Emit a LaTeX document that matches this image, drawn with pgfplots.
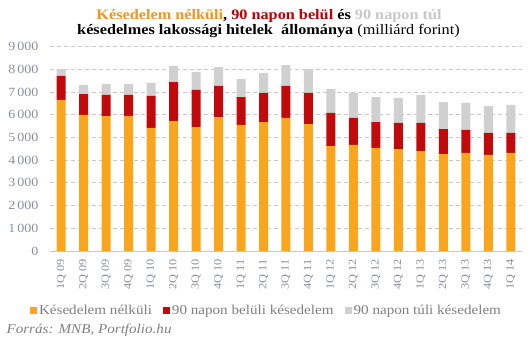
\documentclass[border=0pt]{standalone}
\usepackage{pgfplots}
\pgfplotsset{compat=1.18}
\usepackage{fontspec}
\setmainfont{Liberation Serif}[FakeStretch=1.12]
\definecolor{cOr}{HTML}{F9A61E}
\definecolor{cRed}{HTML}{C00A0C}
\definecolor{cGr}{HTML}{D0D0D0}
\definecolor{tOr}{HTML}{F7941D}
\definecolor{tRed}{HTML}{C00000}
\definecolor{tGr}{HTML}{C8C8C8}
\definecolor{tickc}{HTML}{8A8E9E}
\definecolor{legc}{HTML}{7F7F7F}
\definecolor{gridc}{HTML}{C8C8C8}
\begin{document}
\begin{tikzpicture}[x=1pt,y=1pt]
\useasboundingbox (0,0) rectangle (531,342);
\begin{axis}[
  at={(50pt,91pt)}, anchor=south west,
  scale only axis, width=472pt, height=204.4pt,
  xmin=-0.5, xmax=20.5, ymin=0, ymax=9000,
  ybar stacked, bar width=9pt,
  axis x line*=bottom, axis y line*=left,
  y axis line style={draw=none},
  x axis line style={draw=gridc},
  major tick length=0pt,
  ytick={0,1000,...,9000},
  yticklabels={0,1\,000,2\,000,3\,000,4\,000,5\,000,6\,000,7\,000,8\,000,9\,000},
  y tick label style={font=\fontsize{12.5}{12.5}\selectfont, text=tickc, xshift=-8pt},
  xtick={0,...,20},
  xticklabels={1Q 09,2Q 09,3Q 09,4Q 09,1Q 10,2Q 10,3Q 10,4Q 10,1Q 11,2Q 11,3Q 11,4Q 11,1Q 12,2Q 12,3Q 12,4Q 12,1Q 13,2Q 13,3Q 13,4Q 13,1Q 14},
  x tick label style={rotate=90, anchor=east, font=\fontsize{11}{11}\selectfont, text=tickc, xshift=-5pt},
  ymajorgrids, grid style={draw=gridc, dash pattern=on 4pt off 3pt, line width=0.8pt},
  legend columns=3,
  legend style={at={(0.4587,-0.2935)}, anchor=center, draw=none, fill=none,
    font=\fontsize{13.5}{13.5}\selectfont, text=legc,
    /tikz/every even column/.append style={column sep=9pt}},
]
\addplot[fill=cOr, draw=none, legend image code/.code={\fill[cOr] (0pt,-3.5pt) rectangle (7pt,3.5pt);}] coordinates {
(0,6650) (1,5990) (2,5940) (3,5950) (4,5420) (5,5720) (6,5460) (7,5900) (8,5550) (9,5680)
(10,5860) (11,5590) (12,4620) (13,4670) (14,4540) (15,4490) (16,4400) (17,4270) (18,4320) (19,4230) (20,4320)};
\addplot[fill=cRed, draw=none, legend image code/.code={\fill[cRed] (0pt,-3.5pt) rectangle (7pt,3.5pt);}] coordinates {
(0,1060) (1,920) (2,930) (3,920) (4,1410) (5,1720) (6,1630) (7,1370) (8,1230) (9,1280)
(10,1410) (11,1370) (12,1460) (13,1190) (14,1140) (15,1150) (16,1240) (17,1100) (18,1010) (19,970) (20,880)};
\addplot[fill=cGr, draw=none, legend image code/.code={\fill[cGr] (0pt,-3.5pt) rectangle (7pt,3.5pt);}] coordinates {
(0,300) (1,400) (2,480) (3,480) (4,570) (5,710) (6,790) (7,830) (8,790) (9,880)
(10,920) (11,1050) (12,1050) (13,1100) (14,1100) (15,1100) (16,1230) (17,1190) (18,1190) (19,1180) (20,1230)};
\legend{Késedelem nélküli, 90 napon belüli késedelem, 90 napon túli késedelem}
\end{axis}
\node[font=\bfseries\fontsize{14.5}{14.5}\selectfont, anchor=center] at (269,326)
  {\textcolor{tOr}{Késedelem nélküli}, \textcolor{tRed}{90 napon belül} és \textcolor{tGr}{90 napon túl}};
\node[font=\fontsize{14.5}{14.5}\selectfont, anchor=center] at (268.5,311)
  {\textbf{késedelmes lakossági hitelek \ állománya} (milliárd forint)};
\node[font=\itshape\fontsize{13.5}{13.5}\selectfont, text=legc, anchor=west] at (3,12) {Forrás: MNB, Portfolio.hu};
\end{tikzpicture}
\end{document}
